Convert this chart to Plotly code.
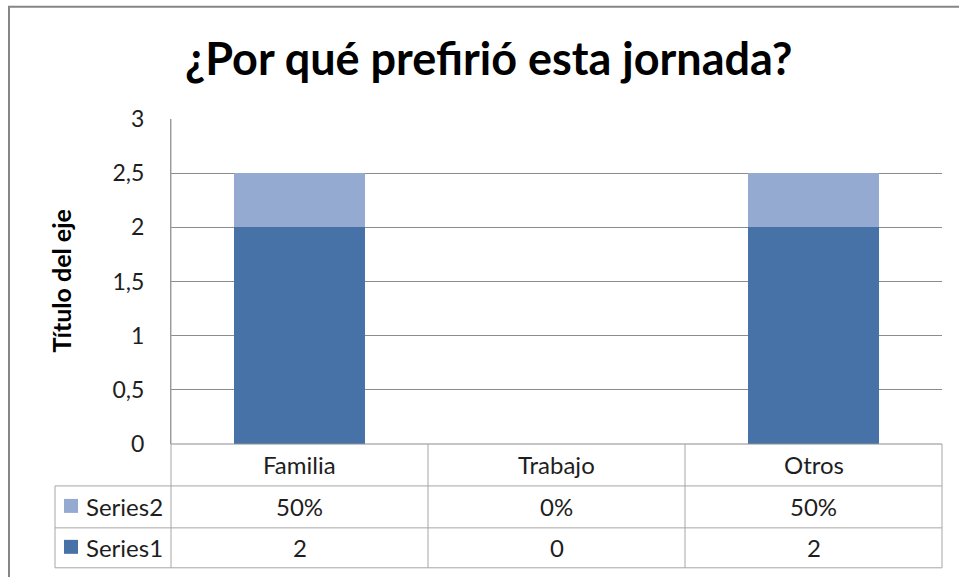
import plotly.graph_objects as go

categories = ["Familia", "Trabajo", "Otros"]
series1 = [2, 0, 2]
series2 = [0.5, 0, 0.5]
series_names = ["Series1", "Series2"]
title_text = "¿Por qué prefirió esta jornada?"
y_title = "Título del eje"
y_ticks = [0, 0.5, 1, 1.5, 2, 2.5, 3]

C1 = "#4672A8"
C2 = "#95AAD1"
GRID = "#8C8C8C"
TBL = "#A6A6A6"
FONT = "Lato, Open Sans, sans-serif"
TXT = "#1E1E1E"

W, H = 959, 577
L, R, T, B = 171, 942, 118.5, 444.0

def px(x):
    return (x - L) / (R - L)

def py(y):
    return (B - y) / (B - T)

fig = go.Figure()
fig.add_trace(go.Bar(x=categories, y=series1, name=series_names[0],
                     marker=dict(color=C1, line=dict(width=0))))
fig.add_trace(go.Bar(x=categories, y=series2, name=series_names[1],
                     marker=dict(color=C2, line=dict(width=0))))

shapes = []
# outer chart border
shapes.append(dict(type="rect", xref="paper", yref="paper",
                   x0=px(9), x1=px(1100), y0=py(6), y1=py(800),
                   line=dict(color="#868686", width=2), fillcolor="rgba(0,0,0,0)"))
# table horizontal lines
for yy in (486, 528, 568):
    shapes.append(dict(type="line", xref="paper", yref="paper",
                       x0=px(55), x1=1, y0=py(yy), y1=py(yy),
                       line=dict(color=TBL, width=1)))
# x axis line / top of table
shapes.append(dict(type="line", xref="paper", yref="paper",
                   x0=0, x1=1, y0=0, y1=0, line=dict(color=GRID, width=1)))
# table vertical lines (category boundaries)
n = len(categories)
for k in range(n + 1):
    shapes.append(dict(type="line", xref="x domain", yref="paper",
                       x0=k / n, x1=k / n, y0=0 if k else 1, y1=py(568),
                       line=dict(color=TBL, width=1)))
shapes.append(dict(type="line", xref="paper", yref="paper",
                   x0=px(55), x1=px(55), y0=py(486), y1=py(568),
                   line=dict(color=TBL, width=1)))
# legend keys in table
for yy0, col in ((499, C2), (540, C1)):
    shapes.append(dict(type="rect", xref="paper", yref="paper",
                       x0=px(64), x1=px(78), y0=py(yy0), y1=py(yy0 + 14),
                       fillcolor=col, line=dict(width=0)))

ann = []
tfont = dict(family=FONT, size=24, color=TXT)

def fmt_num(v):
    return str(int(v)) if float(v).is_integer() else str(v).replace(".", ",")

for c, v1, v2 in zip(categories, series1, series2):
    ann.append(dict(x=c, xref="x", y=py(465), yref="paper", text=c,
                    showarrow=False, font=tfont, xanchor="center", yanchor="middle"))
    ann.append(dict(x=c, xref="x", y=py(507), yref="paper", text=f"{round(v2*100)}%",
                    showarrow=False, font=tfont, xanchor="center", yanchor="middle"))
    ann.append(dict(x=c, xref="x", y=py(548), yref="paper", text=fmt_num(v1),
                    showarrow=False, font=tfont, xanchor="center", yanchor="middle"))
ann.append(dict(x=px(84), xref="paper", y=py(507), yref="paper", text=series_names[1],
                showarrow=False, font=tfont, xanchor="left", yanchor="middle"))
ann.append(dict(x=px(84), xref="paper", y=py(548), yref="paper", text=series_names[0],
                showarrow=False, font=tfont, xanchor="left", yanchor="middle"))
# title
ann.append(dict(x=px(489), xref="paper", y=py(57), yref="paper", text=f"<b>{title_text}</b>",
                showarrow=False, font=dict(family=FONT, size=45, color="#000000"),
                xanchor="center", yanchor="middle"))
# y axis title
ann.append(dict(x=px(60), xref="paper", y=0.5, yref="paper", text=f"<b>{y_title}</b>",
                showarrow=False, textangle=-90, font=dict(family=FONT, size=25, color="#000000"),
                xanchor="center", yanchor="middle"))

fig.update_layout(
    width=W, height=H,
    margin=dict(l=L, r=W - R, t=T, b=H - B, pad=0),
    barmode="stack", bargap=0.487,
    showlegend=False,
    separators=",.",
    paper_bgcolor="white", plot_bgcolor="white",
    font=dict(family=FONT, color=TXT),
    shapes=shapes, annotations=ann,
    xaxis=dict(showticklabels=False, showgrid=False, zeroline=False, showline=False,
               ticks="", range=[-0.5, 2.5]),
    yaxis=dict(range=[0, 3], tickvals=y_ticks, showgrid=True, gridcolor=GRID, gridwidth=1,
               zeroline=False, showline=True, linecolor=GRID, linewidth=1, ticks="",
               tickfont=dict(family=FONT, size=23, color=TXT),
               ticklabelstandoff=21),
)

fig.write_html("out.html", config={"displayModeBar": False},
               post_script="document.body.style.margin='0';")
